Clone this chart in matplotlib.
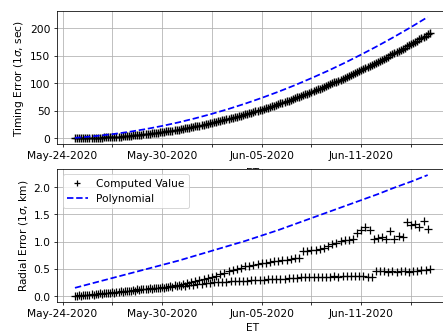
import numpy as np
import pandas as pd
import matplotlib
matplotlib.use('Agg')
import matplotlib.pyplot as plt

plt.rcParams['font.size'] = 11

# two interleaved tracks, each sampled every 6 hours
n_pts = 86
epochs_a = pd.Timestamp('2020-05-24 18:00') + pd.to_timedelta(np.arange(n_pts) * 6, unit='h')
epochs_b = pd.Timestamp('2020-05-24 21:00') + pd.to_timedelta(np.arange(n_pts) * 6, unit='h')

# timing error, computed (sec)
timing_a = [
    0.0, 0.0, 0.0, 0.1, 0.2, 0.4, 0.7, 1.0, 1.3, 1.7,
    2.2, 2.7, 3.3, 3.9, 4.6, 5.3, 6.1, 6.9, 7.8, 8.8,
    9.8, 10.8, 11.9, 13.1, 14.3, 15.5, 16.9, 18.2, 19.6, 21.1,
    22.6, 24.2, 25.9, 27.6, 29.3, 31.1, 32.9, 34.8, 36.8, 38.8,
    40.9, 43.0, 45.2, 47.4, 49.7, 52.0, 54.4, 56.8, 59.3, 61.9,
    64.5, 67.1, 69.8, 72.6, 75.4, 78.2, 81.2, 84.1, 87.2, 90.2,
    93.4, 96.6, 99.8, 103.1, 106.4, 109.8, 113.3, 116.8, 120.3, 124.0,
    127.6, 131.3, 135.1, 138.9, 142.8, 146.8, 150.7, 154.8, 158.9, 163.0,
    167.2, 171.5, 175.8, 180.1, 184.6, 189.0,
]
timing_b = [
    0.0, 0.0, 0.1, 0.2, 0.3, 0.6, 0.8, 1.2, 1.5, 2.0,
    2.5, 3.0, 3.6, 4.2, 4.9, 5.7, 6.5, 7.4, 8.3, 9.3,
    10.3, 11.4, 12.5, 13.7, 14.9, 16.2, 17.5, 18.9, 20.4, 21.9,
    23.4, 25.0, 26.7, 28.4, 30.2, 32.0, 33.9, 35.8, 37.8, 39.8,
    41.9, 44.1, 46.3, 48.5, 50.8, 53.2, 55.6, 58.1, 60.6, 63.1,
    65.8, 68.4, 71.2, 74.0, 76.8, 79.7, 82.6, 85.6, 88.7, 91.8,
    95.0, 98.2, 101.4, 104.7, 108.1, 111.5, 115.0, 118.6, 122.1, 125.8,
    129.5, 133.2, 137.0, 140.9, 144.8, 148.7, 152.7, 156.8, 160.9, 165.1,
    169.3, 173.6, 177.9, 182.3, 186.8, 191.3,
]

# polynomial fit, sampled daily
poly_days = pd.to_datetime([
    '2020-05-24 18:00', '2020-05-25 00:00', '2020-05-26 00:00', '2020-05-27 00:00',
    '2020-05-28 00:00', '2020-05-29 00:00', '2020-05-30 00:00', '2020-05-31 00:00',
    '2020-06-01 00:00', '2020-06-02 00:00', '2020-06-03 00:00', '2020-06-04 00:00',
    '2020-06-05 00:00', '2020-06-06 00:00', '2020-06-07 00:00', '2020-06-08 00:00',
    '2020-06-09 00:00', '2020-06-10 00:00', '2020-06-11 00:00', '2020-06-12 00:00',
    '2020-06-13 00:00', '2020-06-14 00:00', '2020-06-15 00:00',
])
timing_poly = [
    0.4, 0.9, 3.6, 7.0, 11.2, 16.2, 22.0, 28.6, 36.0, 44.1,
    53.0, 62.7, 73.2, 84.4, 96.4, 109.3, 122.8, 137.2, 152.4, 168.3,
    185.0, 202.5, 220.8,
]
radial_poly = [
    0.15, 0.17, 0.25, 0.33, 0.41, 0.49, 0.57, 0.65, 0.74, 0.83,
    0.92, 1.01, 1.11, 1.21, 1.32, 1.43, 1.54, 1.65, 1.76, 1.87,
    1.99, 2.10, 2.22,
]

# radial error, computed (km)
radial_a = [
    0.00, 0.01, 0.01, 0.02, 0.03, 0.04, 0.05, 0.05, 0.06, 0.07,
    0.08, 0.09, 0.09, 0.10, 0.11, 0.12, 0.12, 0.13, 0.14, 0.15,
    0.15, 0.16, 0.17, 0.18, 0.20, 0.21, 0.22, 0.24, 0.25, 0.27,
    0.29, 0.31, 0.33, 0.35, 0.37, 0.40, 0.42, 0.45, 0.47, 0.50,
    0.52, 0.55, 0.56, 0.57, 0.58, 0.60, 0.61, 0.62, 0.64, 0.65,
    0.66, 0.67, 0.68, 0.69, 0.70, 0.82, 0.83, 0.84, 0.85, 0.87,
    0.89, 0.92, 0.95, 0.98, 1.01, 1.03, 1.02, 1.05, 1.15, 1.22,
    1.26, 1.22, 1.05, 1.06, 1.08, 1.04, 1.20, 1.04, 1.10, 1.09,
    1.35, 1.30, 1.33, 1.27, 1.38, 1.23,
]
radial_b = [
    0.00, 0.00, 0.01, 0.02, 0.02, 0.03, 0.04, 0.05, 0.06, 0.06,
    0.07, 0.08, 0.09, 0.10, 0.10, 0.11, 0.12, 0.13, 0.13, 0.14,
    0.15, 0.15, 0.16, 0.17, 0.18, 0.18, 0.19, 0.20, 0.21, 0.22,
    0.22, 0.23, 0.24, 0.25, 0.25, 0.26, 0.26, 0.27, 0.27, 0.27,
    0.28, 0.28, 0.29, 0.29, 0.30, 0.30, 0.31, 0.31, 0.31, 0.32,
    0.32, 0.33, 0.33, 0.33, 0.34, 0.34, 0.34, 0.34, 0.35, 0.35,
    0.35, 0.35, 0.36, 0.35, 0.36, 0.36, 0.37, 0.36, 0.37, 0.36,
    0.34, 0.34, 0.45, 0.46, 0.45, 0.44, 0.46, 0.44, 0.46, 0.45,
    0.44, 0.45, 0.46, 0.47, 0.48, 0.50,
]

tick_dates = pd.date_range('2020-05-24', periods=8, freq='3D')
tick_labels = ['May-24-2020', '', 'May-30-2020', '', 'Jun-05-2020', '',
               'Jun-11-2020', '']

all_epochs = np.concatenate([epochs_a.values, epochs_b.values])

fig = plt.figure(figsize=(6.4, 4.8), dpi=69.3)
ax1 = fig.add_axes([0.129, 0.565, 0.88, 0.40])
ax2 = fig.add_axes([0.129, 0.09, 0.88, 0.40])

ax1.plot(all_epochs, timing_a + timing_b, 'k+', ms=7.5, mew=1.5, label='Computed Value')
ax1.plot(poly_days, timing_poly, 'b--', lw=1.8, label='Polynomial')
ax1.set_ylabel(r'Timing Error (1$\sigma$, sec)')
ax1.set_xlabel('ET', labelpad=7)

ax2.plot(all_epochs, radial_a + radial_b, 'k+', ms=7.5, mew=1.3, label='Computed Value')
ax2.plot(poly_days, radial_poly, 'b--', lw=1.8, label='Polynomial')
ax2.set_ylabel(r'Radial Error (1$\sigma$, km)')
ax2.set_xlabel('ET')
ax2.legend(loc='upper left', markerscale=0.7)

for ax in (ax1, ax2):
    ax.set_xticks(tick_dates)
    ax.set_xticklabels(tick_labels)
    ax.grid(True)

fig.savefig('out.png', dpi=69.3)
